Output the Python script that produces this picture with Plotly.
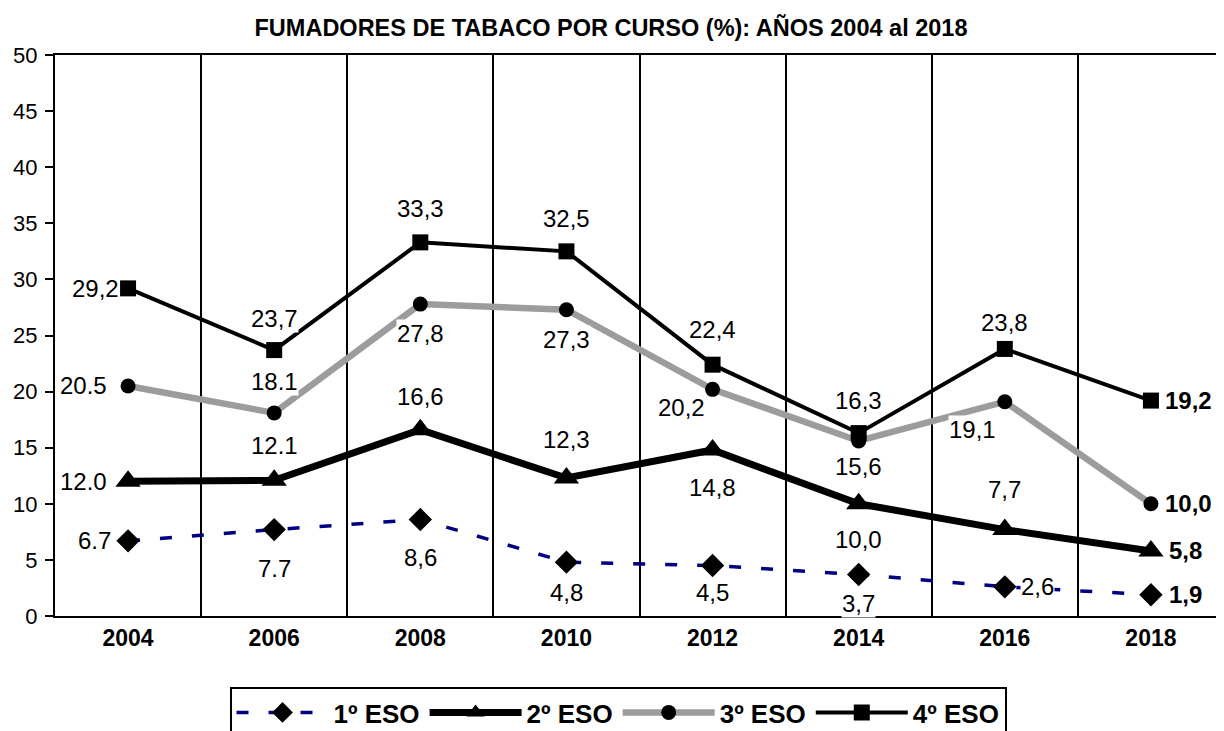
import plotly.graph_objects as go

years = ["2004", "2006", "2008", "2010", "2012", "2014", "2016", "2018"]
eso1 = [6.7, 7.7, 8.6, 4.8, 4.5, 3.7, 2.6, 1.9]
eso2 = [12.0, 12.1, 16.6, 12.3, 14.8, 10.0, 7.7, 5.8]
eso3 = [20.5, 18.1, 27.8, 27.3, 20.2, 15.6, 19.1, 10.0]
eso4 = [29.2, 23.7, 33.3, 32.5, 22.4, 16.3, 23.8, 19.2]

lab1 = ["6.7", "7.7", "8,6", "4,8", "4,5", "3,7", "2,6", "1,9"]
lab2 = ["12.0", "12.1", "16,6", "12,3", "14,8", "10,0", "7,7", "5,8"]
lab3 = ["20.5", "18.1", "27,8", "27,3", "20,2", "15,6", "19,1", "10,0"]
lab4 = ["29,2", "23,7", "33,3", "32,5", "22,4", "16,3", "23,8", "19,2"]

# label offsets in pixels (dx, dy up-positive)
off1 = [(-34, 0), (0, -39), (0, -38), (0, -30), (0, -27), (0, -29), (33, 0), (35, 0)]
off2 = [(-45, 0), (0, 35), (0, 33), (0, 38), (0, -38), (0, -36), (0, 40), (35, 0)]
off3 = [(-45, 0), (0, 31), (0, -29), (0, -30), (-31, -18), (0, -26), (-32, -28), (38, 0)]
off4 = [(-33, 0), (0, 32), (0, 34), (0, 33), (0, 35), (0, 33), (0, 26), (38, 0)]

FONT = "Liberation Sans, Arial, sans-serif"
NARROW = "Liberation Sans Narrow, Arial Narrow, Liberation Sans, sans-serif"

fig = go.Figure()
fig.add_trace(go.Scatter(x=years, y=eso1, name="1º ESO", mode="lines+markers",
                         line=dict(color="#000080", width=3.5, dash="12px,20px"),
                         marker=dict(symbol="diamond", size=18, color="black")))
fig.add_trace(go.Scatter(x=years, y=eso2, name="2º ESO", mode="lines+markers",
                         line=dict(color="black", width=7),
                         marker=dict(symbol="triangle-up", size=22, color="black")))
fig.add_trace(go.Scatter(x=years, y=eso3, name="3º ESO", mode="lines+markers",
                         line=dict(color="#9c9c9c", width=6.5),
                         marker=dict(symbol="circle", size=15, color="black")))
fig.add_trace(go.Scatter(x=years, y=eso4, name="4º ESO", mode="lines+markers",
                         line=dict(color="black", width=4),
                         marker=dict(symbol="square", size=16, color="black")))

for vals, labs, offs in [(eso1, lab1, off1), (eso2, lab2, off2), (eso3, lab3, off3), (eso4, lab4, off4)]:
    for i, (v, t, o) in enumerate(zip(vals, labs, offs)):
        last = i == len(vals) - 1
        fig.add_annotation(x=i, y=v, xref="x", yref="y",
                           text=f"<b>{t}</b>" if last else t,
                           showarrow=False, xshift=o[0], yshift=o[1],
                           font=dict(family=NARROW, size=24, color="black"),
                           bgcolor="white" if not last else "rgba(0,0,0,0)", borderpad=0)

W, H = 1216, 723
L, T, B = 47, 47, 115
PW = W - L
fig.update_layout(
    width=W, height=H,
    margin=dict(l=L, r=0, t=T, b=B, autoexpand=False),
    paper_bgcolor="white", plot_bgcolor="white",
    title=dict(text="<b>FUMADORES DE TABACO POR CURSO (%): AÑOS 2004 al 2018</b>",
               x=(611 - 8) / W, xanchor="center", y=1 - 20 / H, yanchor="middle",
               font=dict(family=FONT, size=23.5, color="black")),
    font=dict(family=FONT, color="black"),
    xaxis=dict(type="category", range=[-0.5, 7.5], tickson="boundaries",
               showgrid=True, gridcolor="black", gridwidth=2,
               showline=True, linecolor="black", linewidth=2, mirror=True,
               ticks="", tickfont=dict(family=FONT, size=23),
               tickvals=years, ticktext=[f"<b>{y}</b>" for y in years]),
    yaxis=dict(range=[0, 50], dtick=5, showgrid=False, zeroline=False,
               showline=True, linecolor="black", linewidth=2,
               ticks="outside", ticklen=8, tickwidth=2, tickcolor="black",
               ticklabelstandoff=3,
               tickfont=dict(family=FONT, size=22)),
    legend=dict(orientation="h", x=(618 - 8 - L) / PW, xanchor="center", y=-0.1266, yanchor="top",
                bordercolor="black", borderwidth=2, bgcolor="white",
                font=dict(family=FONT, size=26, weight="bold"), itemwidth=92,
                traceorder="normal"),
    showlegend=True,
)

fig.write_html("out.html")
